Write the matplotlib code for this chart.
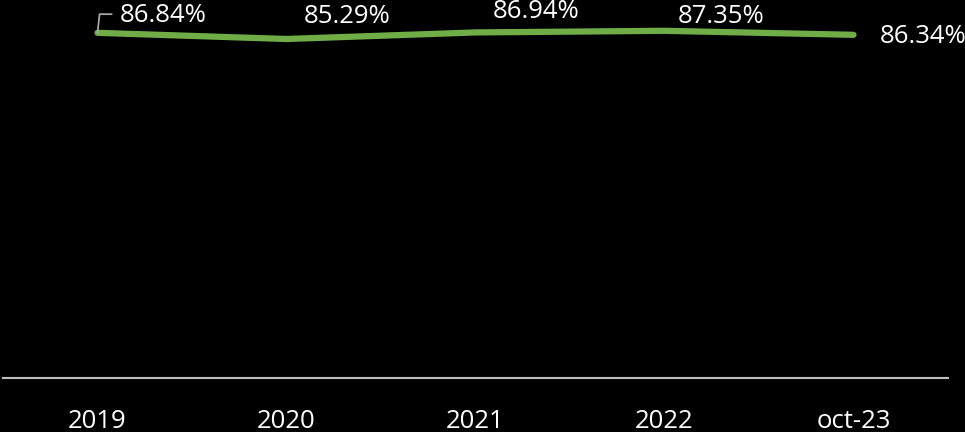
import matplotlib.pyplot as plt

categories = ['2019', '2020', '2021', '2022', 'oct-23']
values = [86.84, 85.29, 86.94, 87.35, 86.34]
labels = ['86.84%', '85.29%', '86.94%', '87.35%', '86.34%']

plt.rcParams['font.family'] = ['Open Sans', 'DejaVu Sans']

fig = plt.figure(figsize=(9.65, 4.32), dpi=100, facecolor='black')
ax = fig.add_axes([3 / 965, 1 - 378 / 432, 945 / 965, 378 / 432])
ax.set_facecolor('black')

x = list(range(len(categories)))
ax.plot(x, values, color='#70AD47', linewidth=4.5, solid_capstyle='round', solid_joinstyle='round')

ax.set_xlim(-0.5, len(categories) - 0.5)
ax.set_ylim(0, 95.1)

# data labels (offsets in points, roughly where the original has them)
offsets = [(47, 12.5), (44, 16), (44, 15), (41, 10.5), (50, -1.5)]
for i, (v, lab) in enumerate(zip(values, labels)):
    ax.annotate(lab, (i, v), xytext=offsets[i], textcoords='offset points',
                ha='center', va='center', color='white', fontsize=18.5)

# leader line on first label
ax.plot([0, 0.011, 0.074], [values[0], values[0] + 4.7, values[0] + 4.7],
        color='#a6a6a6', linewidth=1.3, clip_on=False)

for s in ['top', 'left', 'right']:
    ax.spines[s].set_visible(False)
ax.spines['bottom'].set_color('#bfbfbf')
ax.spines['bottom'].set_linewidth(1.5)
ax.set_yticks([])
ax.set_xticks(x)
ax.set_xticklabels(categories, color='white', fontsize=18.5)
ax.tick_params(axis='x', length=0, pad=22)

fig.savefig('out.png', dpi=100, facecolor='black')
